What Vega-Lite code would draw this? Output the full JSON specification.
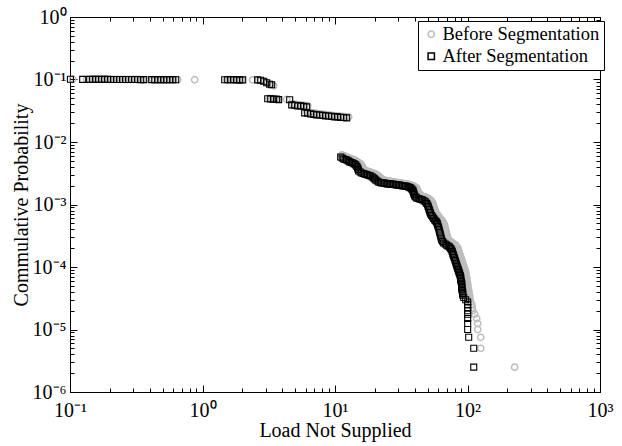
{
  "$schema": "https://vega.github.io/schema/vega-lite/v6.json",
  "width": 530,
  "height": 375,
  "autosize": {"type": "none"},
  "padding": {"left": 70, "top": 17, "right": 22, "bottom": 54},
  "background": "white",
  "config": {
    "view": {"stroke": "black", "strokeWidth": 1},
    "font": "Liberation Serif",
    "axis": {
      "grid": false,
      "domainColor": "black",
      "domainWidth": 1,
      "tickColor": "black",
      "tickWidth": 1,
      "labelColor": "black",
      "titleColor": "black",
      "labelFont": "Liberation Serif",
      "titleFont": "Liberation Serif",
      "labelFontSize": 20,
      "titleFontSize": 20,
      "titleFontWeight": "normal",
      "labelOverlap": false,
      "labelFlush": false,
      "labelBound": false
    }
  },
  "datasets": {
    "before": [
      {"lns": 0.1048, "prob": 0.1008}, {"lns": 0.1337, "prob": 0.1007}, {"lns": 0.1458, "prob": 0.1007}, {"lns": 0.1536, "prob": 0.1006},
      {"lns": 0.1618, "prob": 0.1006}, {"lns": 0.1705, "prob": 0.1005}, {"lns": 0.1796, "prob": 0.1005}, {"lns": 0.1892, "prob": 0.1004},
      {"lns": 0.1993, "prob": 0.1004}, {"lns": 0.21, "prob": 0.1003}, {"lns": 0.2212, "prob": 0.1003}, {"lns": 0.2331, "prob": 0.1002},
      {"lns": 0.2455, "prob": 0.1002}, {"lns": 0.2587, "prob": 0.1001}, {"lns": 0.2725, "prob": 0.1001}, {"lns": 0.2871, "prob": 0.1},
      {"lns": 0.3024, "prob": 0.1}, {"lns": 0.3186, "prob": 0.0999}, {"lns": 0.3357, "prob": 0.0999}, {"lns": 0.3536, "prob": 0.0998},
      {"lns": 0.3725, "prob": 0.0998}, {"lns": 0.4209, "prob": 0.0997}, {"lns": 0.4434, "prob": 0.0997}, {"lns": 0.4671, "prob": 0.0996},
      {"lns": 0.4921, "prob": 0.0996}, {"lns": 0.5185, "prob": 0.0995}, {"lns": 0.5462, "prob": 0.0995}, {"lns": 0.5754, "prob": 0.0994},
      {"lns": 0.6062, "prob": 0.0994}, {"lns": 0.65, "prob": 0.0993}, {"lns": 0.8733, "prob": 0.0992}, {"lns": 1.523, "prob": 0.0991},
      {"lns": 1.604, "prob": 0.099}, {"lns": 1.69, "prob": 0.099}, {"lns": 1.781, "prob": 0.0989}, {"lns": 1.876, "prob": 0.0988},
      {"lns": 1.976, "prob": 0.0987}, {"lns": 2.393, "prob": 0.0986},
      {"lns": 2.61, "prob": 0.0984}, {"lns": 2.75, "prob": 0.0968}, {"lns": 2.948, "prob": 0.0919}, {"lns": 3.105, "prob": 0.0869},
      {"lns": 3.271, "prob": 0.0838}, {"lns": 3.446, "prob": 0.0793},
      {"lns": 3.2, "prob": 0.0497}, {"lns": 3.37, "prob": 0.0494}, {"lns": 3.55, "prob": 0.0491}, {"lns": 3.7, "prob": 0.0488},
      {"lns": 4.318, "prob": 0.0482},
      {"lns": 4.794, "prob": 0.0405}, {"lns": 5.05, "prob": 0.04}, {"lns": 5.321, "prob": 0.0395}, {"lns": 5.606, "prob": 0.039},
      {"lns": 5.905, "prob": 0.0385}, {"lns": 6.221, "prob": 0.038},
      {"lns": 6.114, "prob": 0.0304}, {"lns": 6.441, "prob": 0.0299}, {"lns": 6.786, "prob": 0.0294}, {"lns": 7.149, "prob": 0.0289},
      {"lns": 7.531, "prob": 0.0284}, {"lns": 7.934, "prob": 0.028}, {"lns": 8.358, "prob": 0.0276}, {"lns": 8.805, "prob": 0.0272},
      {"lns": 9.276, "prob": 0.0268}, {"lns": 9.772, "prob": 0.0265}, {"lns": 10.29, "prob": 0.0262}, {"lns": 10.85, "prob": 0.0259},
      {"lns": 11.43, "prob": 0.0256}, {"lns": 12.04, "prob": 0.0254}, {"lns": 12.68, "prob": 0.0252},
      {"lns": 11.23, "prob": 0.00621}, {"lns": 11.53, "prob": 0.0061}, {"lns": 11.84, "prob": 0.00599}, {"lns": 12.26, "prob": 0.00577},
      {"lns": 12.69, "prob": 0.00556}, {"lns": 13.03, "prob": 0.00546}, {"lns": 13.37, "prob": 0.00536}, {"lns": 13.73, "prob": 0.00526},
      {"lns": 14.09, "prob": 0.00516}, {"lns": 14.46, "prob": 0.00498}, {"lns": 14.84, "prob": 0.0048}, {"lns": 15.23, "prob": 0.00463},
      {"lns": 15.63, "prob": 0.00446}, {"lns": 15.91, "prob": 0.00422}, {"lns": 16.19, "prob": 0.00399}, {"lns": 16.33, "prob": 0.00377},
      {"lns": 16.47, "prob": 0.00357}, {"lns": 16.9, "prob": 0.0035}, {"lns": 17.35, "prob": 0.00344}, {"lns": 17.81, "prob": 0.00338},
      {"lns": 18.28, "prob": 0.00332}, {"lns": 18.76, "prob": 0.00326}, {"lns": 19.26, "prob": 0.0032}, {"lns": 19.77, "prob": 0.00314},
      {"lns": 20.29, "prob": 0.00308}, {"lns": 20.82, "prob": 0.00297}, {"lns": 21.37, "prob": 0.00286}, {"lns": 21.75, "prob": 0.00276},
      {"lns": 22.13, "prob": 0.00266}, {"lns": 22.71, "prob": 0.00256}, {"lns": 23.31, "prob": 0.00247}, {"lns": 23.93, "prob": 0.00242},
      {"lns": 24.56, "prob": 0.00238}, {"lns": 25.21, "prob": 0.002375}, {"lns": 25.87, "prob": 0.00237}, {"lns": 26.56, "prob": 0.00233},
      {"lns": 27.26, "prob": 0.00229}, {"lns": 27.98, "prob": 0.002285}, {"lns": 28.72, "prob": 0.00228}, {"lns": 29.48, "prob": 0.002245},
      {"lns": 30.25, "prob": 0.00221}, {"lns": 31.05, "prob": 0.002205}, {"lns": 31.87, "prob": 0.0022}, {"lns": 32.72, "prob": 0.002165},
      {"lns": 33.58, "prob": 0.00213}, {"lns": 34.46, "prob": 0.002125}, {"lns": 35.37, "prob": 0.00212}, {"lns": 36.31, "prob": 0.002085},
      {"lns": 37.27, "prob": 0.00205}, {"lns": 38.25, "prob": 0.002015}, {"lns": 39.26, "prob": 0.00198}, {"lns": 40.3, "prob": 0.00191},
      {"lns": 41.36, "prob": 0.00184}, {"lns": 41.72, "prob": 0.00174}, {"lns": 42.09, "prob": 0.00165}, {"lns": 42.82, "prob": 0.00156},
      {"lns": 43.57, "prob": 0.00147}, {"lns": 44.33, "prob": 0.00142}, {"lns": 45.11, "prob": 0.00137}, {"lns": 46.3, "prob": 0.001345},
      {"lns": 47.53, "prob": 0.00132}, {"lns": 48.78, "prob": 0.001295}, {"lns": 50.07, "prob": 0.00127}, {"lns": 51.39, "prob": 0.001225},
      {"lns": 52.75, "prob": 0.00118}, {"lns": 53.67, "prob": 0.001117}, {"lns": 54.61, "prob": 0.001057}, {"lns": 55.08, "prob": 0.001},
      {"lns": 55.56, "prob": 0.000946}, {"lns": 56.05, "prob": 0.000895}, {"lns": 56.54, "prob": 0.000847}, {"lns": 57.04, "prob": 0.000801},
      {"lns": 57.54, "prob": 0.000758}, {"lns": 58.54, "prob": 0.000717}, {"lns": 59.56, "prob": 0.000679}, {"lns": 60.61, "prob": 0.000643},
      {"lns": 61.67, "prob": 0.000608}, {"lns": 62.75, "prob": 0.000586}, {"lns": 63.85, "prob": 0.000564}, {"lns": 64.97, "prob": 0.000534},
      {"lns": 66.11, "prob": 0.000505}, {"lns": 66.69, "prob": 0.000478}, {"lns": 67.27, "prob": 0.000452}, {"lns": 67.86, "prob": 0.00042},
      {"lns": 68.45, "prob": 0.00039}, {"lns": 69.05, "prob": 0.000363}, {"lns": 69.66, "prob": 0.000337}, {"lns": 70.26, "prob": 0.000313},
      {"lns": 70.87, "prob": 0.00029}, {"lns": 72.12, "prob": 0.000275}, {"lns": 73.39, "prob": 0.00026}, {"lns": 75.33, "prob": 0.000251},
      {"lns": 77.32, "prob": 0.000242}, {"lns": 79.36, "prob": 0.000233}, {"lns": 81.46, "prob": 0.000224}, {"lns": 82.89, "prob": 0.000212},
      {"lns": 84.35, "prob": 0.000201}, {"lns": 85.08, "prob": 0.00019}, {"lns": 85.82, "prob": 0.00018}, {"lns": 86.57, "prob": 0.00017},
      {"lns": 87.33, "prob": 0.000161}, {"lns": 88.09, "prob": 0.000152}, {"lns": 88.86, "prob": 0.000144}, {"lns": 89.64, "prob": 0.000136},
      {"lns": 90.42, "prob": 0.000129}, {"lns": 91.2, "prob": 0.000122}, {"lns": 92.0, "prob": 0.0001155}, {"lns": 92.8, "prob": 0.000109},
      {"lns": 93.62, "prob": 0.000103}, {"lns": 94.44, "prob": 0.0000977}, {"lns": 95.26, "prob": 0.0000926}, {"lns": 96.09, "prob": 0.0000876},
      {"lns": 96.92, "prob": 0.0000829}, {"lns": 96.96, "prob": 0.0000784}, {"lns": 97.0, "prob": 0.0000742}, {"lns": 97.8, "prob": 0.0000702},
      {"lns": 98.62, "prob": 0.0000664}, {"lns": 98.66, "prob": 0.0000628}, {"lns": 98.7, "prob": 0.0000594}, {"lns": 99.5, "prob": 0.0000562},
      {"lns": 100.35, "prob": 0.0000532}, {"lns": 100.38, "prob": 0.0000503}, {"lns": 100.4, "prob": 0.0000476}, {"lns": 101.2, "prob": 0.000045},
      {"lns": 102.1, "prob": 0.0000426}, {"lns": 102.15, "prob": 0.0000403}, {"lns": 102.2, "prob": 0.0000382}, {"lns": 103.0, "prob": 0.0000361},
      {"lns": 103.9, "prob": 0.0000342}, {"lns": 103.95, "prob": 0.0000323}, {"lns": 104.0, "prob": 0.0000306}, {"lns": 105.7, "prob": 0.0000275},
      {"lns": 107.6, "prob": 0.000025}, {"lns": 108.5, "prob": 0.0000225}, {"lns": 109.5, "prob": 0.00002}, {"lns": 113.3, "prob": 0.0000175},
      {"lns": 117.3, "prob": 0.000015}, {"lns": 119.4, "prob": 0.0000125}, {"lns": 119.5, "prob": 0.00001}, {"lns": 125.8, "prob": 0.0000075},
      {"lns": 125.9, "prob": 0.000005}, {"lns": 227.1, "prob": 0.0000025}
    ],
    "after": [
      {"lns": 0.1007, "prob": 0.1007}, {"lns": 0.1247, "prob": 0.1006}, {"lns": 0.1408, "prob": 0.1006}, {"lns": 0.1483, "prob": 0.1005},
      {"lns": 0.1563, "prob": 0.1005}, {"lns": 0.1646, "prob": 0.1004}, {"lns": 0.1734, "prob": 0.1004}, {"lns": 0.1827, "prob": 0.1003},
      {"lns": 0.1925, "prob": 0.1003}, {"lns": 0.2028, "prob": 0.1002}, {"lns": 0.2136, "prob": 0.1002}, {"lns": 0.2251, "prob": 0.1001},
      {"lns": 0.2371, "prob": 0.1001}, {"lns": 0.2498, "prob": 0.1}, {"lns": 0.2632, "prob": 0.1}, {"lns": 0.2772, "prob": 0.0999},
      {"lns": 0.2921, "prob": 0.0999}, {"lns": 0.3077, "prob": 0.0998}, {"lns": 0.3242, "prob": 0.0998}, {"lns": 0.3415, "prob": 0.0997},
      {"lns": 0.3598, "prob": 0.0997}, {"lns": 0.4137, "prob": 0.0996}, {"lns": 0.4358, "prob": 0.0996}, {"lns": 0.4591, "prob": 0.0995},
      {"lns": 0.4837, "prob": 0.0995}, {"lns": 0.5096, "prob": 0.0994}, {"lns": 0.5368, "prob": 0.0994}, {"lns": 0.5655, "prob": 0.0993},
      {"lns": 0.5958, "prob": 0.0993}, {"lns": 0.6277, "prob": 0.0992}, {"lns": 1.471, "prob": 0.0991}, {"lns": 1.55, "prob": 0.099},
      {"lns": 1.633, "prob": 0.099}, {"lns": 1.72, "prob": 0.0989}, {"lns": 1.812, "prob": 0.0988}, {"lns": 1.909, "prob": 0.0988},
      {"lns": 2.011, "prob": 0.0987},
      {"lns": 2.61, "prob": 0.0985}, {"lns": 2.75, "prob": 0.0971}, {"lns": 2.897, "prob": 0.0936}, {"lns": 3.052, "prob": 0.0886},
      {"lns": 3.215, "prob": 0.0838}, {"lns": 3.328, "prob": 0.0823},
      {"lns": 3.105, "prob": 0.0491}, {"lns": 3.271, "prob": 0.0489}, {"lns": 3.446, "prob": 0.0486}, {"lns": 3.63, "prob": 0.0482},
      {"lns": 3.759, "prob": 0.0476},
      {"lns": 4.55, "prob": 0.0473}, {"lns": 4.711, "prob": 0.0393}, {"lns": 4.963, "prob": 0.0387}, {"lns": 5.229, "prob": 0.0379},
      {"lns": 5.508, "prob": 0.0378}, {"lns": 5.803, "prob": 0.0372}, {"lns": 6.114, "prob": 0.0365},
      {"lns": 5.905, "prob": 0.02926}, {"lns": 6.221, "prob": 0.0288}, {"lns": 6.554, "prob": 0.0282}, {"lns": 6.904, "prob": 0.0277},
      {"lns": 7.274, "prob": 0.02718}, {"lns": 7.663, "prob": 0.0271}, {"lns": 8.073, "prob": 0.0267}, {"lns": 8.505, "prob": 0.0262},
      {"lns": 8.96, "prob": 0.0261}, {"lns": 9.439, "prob": 0.0257}, {"lns": 9.944, "prob": 0.02525}, {"lns": 10.48, "prob": 0.0252},
      {"lns": 11.04, "prob": 0.0248}, {"lns": 11.63, "prob": 0.0247}, {"lns": 12.25, "prob": 0.02433},
      {"lns": 11.04, "prob": 0.00577}, {"lns": 11.33, "prob": 0.00556}, {"lns": 11.63, "prob": 0.00536}, {"lns": 11.94, "prob": 0.00526},
      {"lns": 12.25, "prob": 0.00516}, {"lns": 12.57, "prob": 0.00498}, {"lns": 12.91, "prob": 0.0048}, {"lns": 13.25, "prob": 0.00471},
      {"lns": 13.6, "prob": 0.00462}, {"lns": 13.96, "prob": 0.00446}, {"lns": 14.33, "prob": 0.0043}, {"lns": 14.6, "prob": 0.00407},
      {"lns": 14.84, "prob": 0.00385}, {"lns": 14.97, "prob": 0.00364}, {"lns": 15.1, "prob": 0.00344}, {"lns": 15.5, "prob": 0.00332},
      {"lns": 15.91, "prob": 0.0032}, {"lns": 16.33, "prob": 0.00314}, {"lns": 16.76, "prob": 0.00308}, {"lns": 17.2, "prob": 0.00302},
      {"lns": 17.66, "prob": 0.00297}, {"lns": 18.12, "prob": 0.00291}, {"lns": 18.6, "prob": 0.00286}, {"lns": 19.1, "prob": 0.00276},
      {"lns": 19.6, "prob": 0.00266}, {"lns": 19.94, "prob": 0.00256}, {"lns": 20.29, "prob": 0.00247}, {"lns": 20.82, "prob": 0.00238},
      {"lns": 21.37, "prob": 0.00229}, {"lns": 21.94, "prob": 0.00225}, {"lns": 22.52, "prob": 0.00221}, {"lns": 23.11, "prob": 0.002205},
      {"lns": 23.72, "prob": 0.0022}, {"lns": 24.35, "prob": 0.00216}, {"lns": 24.99, "prob": 0.00213}, {"lns": 25.65, "prob": 0.002125},
      {"lns": 26.33, "prob": 0.00212}, {"lns": 27.03, "prob": 0.002115}, {"lns": 27.74, "prob": 0.00211}, {"lns": 28.47, "prob": 0.00208},
      {"lns": 29.22, "prob": 0.00205}, {"lns": 29.99, "prob": 0.002045}, {"lns": 30.78, "prob": 0.00204}, {"lns": 31.6, "prob": 0.00201},
      {"lns": 32.43, "prob": 0.00198}, {"lns": 33.29, "prob": 0.001975}, {"lns": 34.17, "prob": 0.00197}, {"lns": 35.07, "prob": 0.00194},
      {"lns": 35.99, "prob": 0.00191}, {"lns": 36.62, "prob": 0.00187}, {"lns": 37.27, "prob": 0.00184}, {"lns": 37.92, "prob": 0.00177},
      {"lns": 38.59, "prob": 0.00171}, {"lns": 38.92, "prob": 0.00162}, {"lns": 39.26, "prob": 0.00153}, {"lns": 39.6, "prob": 0.00145},
      {"lns": 39.95, "prob": 0.00137}, {"lns": 40.65, "prob": 0.00132}, {"lns": 41.36, "prob": 0.00127}, {"lns": 42.45, "prob": 0.001247},
      {"lns": 43.57, "prob": 0.001225}, {"lns": 44.72, "prob": 0.0012}, {"lns": 45.9, "prob": 0.00118}, {"lns": 47.11, "prob": 0.001138},
      {"lns": 48.36, "prob": 0.001097}, {"lns": 49.21, "prob": 0.001038}, {"lns": 50.07, "prob": 0.000982}, {"lns": 50.51, "prob": 0.000929},
      {"lns": 50.95, "prob": 0.000879}, {"lns": 51.39, "prob": 0.000832}, {"lns": 51.84, "prob": 0.000787}, {"lns": 52.29, "prob": 0.000744},
      {"lns": 52.75, "prob": 0.000704}, {"lns": 53.67, "prob": 0.000666}, {"lns": 54.61, "prob": 0.00063}, {"lns": 55.57, "prob": 0.000596},
      {"lns": 56.54, "prob": 0.000564}, {"lns": 57.53, "prob": 0.000544}, {"lns": 58.54, "prob": 0.000524}, {"lns": 59.05, "prob": 0.000496},
      {"lns": 59.56, "prob": 0.000469}, {"lns": 60.08, "prob": 0.000444}, {"lns": 60.61, "prob": 0.00042}, {"lns": 61.14, "prob": 0.00039},
      {"lns": 61.67, "prob": 0.000362}, {"lns": 62.21, "prob": 0.000337}, {"lns": 62.75, "prob": 0.000313}, {"lns": 63.3, "prob": 0.000291},
      {"lns": 63.85, "prob": 0.00027}, {"lns": 64.97, "prob": 0.000256}, {"lns": 66.11, "prob": 0.000242}, {"lns": 67.86, "prob": 0.000233},
      {"lns": 69.66, "prob": 0.000224}, {"lns": 71.5, "prob": 0.000216}, {"lns": 73.39, "prob": 0.000208}, {"lns": 74.68, "prob": 0.000197},
      {"lns": 75.99, "prob": 0.000187}, {"lns": 76.65, "prob": 0.000177}, {"lns": 77.32, "prob": 0.000167}, {"lns": 78.0, "prob": 0.000158},
      {"lns": 78.68, "prob": 0.00015}, {"lns": 79.37, "prob": 0.000142}, {"lns": 80.06, "prob": 0.000134}, {"lns": 80.76, "prob": 0.000127},
      {"lns": 81.46, "prob": 0.00012}, {"lns": 82.17, "prob": 0.000113}, {"lns": 82.89, "prob": 0.000107}, {"lns": 83.62, "prob": 0.000101},
      {"lns": 84.35, "prob": 0.000096}, {"lns": 85.08, "prob": 0.0000909}, {"lns": 85.82, "prob": 0.000086}, {"lns": 86.57, "prob": 0.0000813},
      {"lns": 87.33, "prob": 0.0000769}, {"lns": 88.1, "prob": 0.0000728}, {"lns": 88.86, "prob": 0.0000689}, {"lns": 88.88, "prob": 0.0000652},
      {"lns": 88.9, "prob": 0.0000617}, {"lns": 89.66, "prob": 0.0000584}, {"lns": 90.42, "prob": 0.0000552}, {"lns": 90.46, "prob": 0.0000522},
      {"lns": 90.5, "prob": 0.0000494}, {"lns": 90.55, "prob": 0.0000467}, {"lns": 90.6, "prob": 0.0000442}, {"lns": 91.3, "prob": 0.0000418},
      {"lns": 92.0, "prob": 0.0000396}, {"lns": 92.05, "prob": 0.0000375}, {"lns": 92.1, "prob": 0.0000355}, {"lns": 93.62, "prob": 0.0000325},
      {"lns": 96.92, "prob": 0.00003}, {"lns": 100.3, "prob": 0.0000275}, {"lns": 100.3, "prob": 0.000025}, {"lns": 100.3, "prob": 0.0000225},
      {"lns": 100.3, "prob": 0.00002}, {"lns": 100.3, "prob": 0.0000175}, {"lns": 100.3, "prob": 0.000015}, {"lns": 100.3, "prob": 0.0000125},
      {"lns": 100.3, "prob": 0.00001}, {"lns": 102.1, "prob": 0.0000075}, {"lns": 111.4, "prob": 0.000005}, {"lns": 111.4, "prob": 0.0000025}
    ]
  },
  "layer": [
    {
      "data": {"name": "before"},
      "mark": {"type": "point", "filled": false, "size": 40, "strokeWidth": 1.5, "opacity": 1},
      "encoding": {
        "x": {
          "field": "lns", "type": "quantitative",
          "scale": {"type": "log", "domain": [0.1, 1000]},
          "axis": {
            "orient": "bottom", "title": "Load Not Supplied", "titlePadding": 0,
            "values": [0.1, 1, 10, 100, 1000], "ticks": false, "labelPadding": 8,
            "labelExpr": "'10' + (round(log(datum.value)/LN10) < 0 ? '⁻' : '') + ['⁰','¹','²','³','⁴','⁵','⁶'][abs(round(log(datum.value)/LN10))]"
          }
        },
        "y": {
          "field": "prob", "type": "quantitative",
          "scale": {"type": "log", "domain": [0.000001, 1]},
          "axis": {
            "orient": "left", "title": "Commulative Probability", "titlePadding": 1,
            "values": [0.000001, 0.00001, 0.0001, 0.001, 0.01, 0.1, 1], "ticks": false, "labelPadding": 4,
            "labelExpr": "'10' + (round(log(datum.value)/LN10) < 0 ? '⁻' : '') + ['⁰','¹','²','³','⁴','⁵','⁶'][abs(round(log(datum.value)/LN10))]"
          }
        },
        "color": {
          "datum": "Before Segmentation",
          "scale": {"domain": ["Before Segmentation", "After Segmentation"], "range": ["#bdbdbd", "#000000"]},
          "legend": {
            "orient": "none", "legendX": 348, "legendY": 4, "title": null,
            "strokeColor": "black", "fillColor": "white", "padding": 4, "cornerRadius": 0,
            "labelFont": "Liberation Serif", "labelFontSize": 18.5, "labelColor": "black", "labelLimit": 400,
            "symbolSize": 40, "symbolStrokeWidth": 1.5, "rowPadding": 3, "labelOffset": 2
          }
        },
        "shape": {
          "datum": "Before Segmentation",
          "scale": {"domain": ["Before Segmentation", "After Segmentation"], "range": ["circle", "square"]},
          "legend": {
            "orient": "none", "legendX": 348, "legendY": 4, "title": null,
            "strokeColor": "black", "fillColor": "white", "padding": 4, "cornerRadius": 0,
            "labelFont": "Liberation Serif", "labelFontSize": 18.5, "labelColor": "black", "labelLimit": 400,
            "symbolSize": 40, "symbolStrokeWidth": 1.5, "rowPadding": 3, "labelOffset": 2
          }
        }
      }
    },
    {
      "data": {"name": "after"},
      "mark": {"type": "point", "filled": false, "size": 36, "strokeWidth": 1.1, "opacity": 1},
      "encoding": {
        "x": {"field": "lns", "type": "quantitative", "scale": {"type": "log", "domain": [0.1, 1000]}, "axis": null},
        "y": {"field": "prob", "type": "quantitative", "scale": {"type": "log", "domain": [0.000001, 1]}, "axis": null},
        "color": {"datum": "After Segmentation"},
        "shape": {"datum": "After Segmentation"}
      }
    },
    {
      "data": {"name": "after"},
      "mark": {"type": "point", "opacity": 0},
      "encoding": {
        "x": {
          "field": "lns", "type": "quantitative", "scale": {"type": "log", "domain": [0.1, 1000]},
          "axis": {"orient": "bottom", "title": null, "labels": false, "domain": false, "values": [0.1, 1, 10, 100, 1000], "tickSize": 7, "offset": -7}
        },
        "y": {
          "field": "prob", "type": "quantitative", "scale": {"type": "log", "domain": [0.000001, 1]},
          "axis": {"orient": "left", "title": null, "labels": false, "domain": false, "values": [0.000001, 0.00001, 0.0001, 0.001, 0.01, 0.1, 1], "tickSize": 7, "offset": -7}
        }
      }
    },
    {
      "data": {"name": "after"},
      "mark": {"type": "point", "opacity": 0},
      "encoding": {
        "x": {
          "field": "lns", "type": "quantitative", "scale": {"type": "log", "domain": [0.1, 1000]},
          "axis": {"orient": "bottom", "title": null, "labels": false, "domain": false, "tickSize": 4, "offset": -4,
            "values": [0.2, 0.3, 0.4, 0.5, 0.6, 0.7, 0.8, 0.9, 2, 3, 4, 5, 6, 7, 8, 9, 20, 30, 40, 50, 60, 70, 80, 90, 200, 300, 400, 500, 600, 700, 800, 900]}
        },
        "y": {
          "field": "prob", "type": "quantitative", "scale": {"type": "log", "domain": [0.000001, 1]},
          "axis": {"orient": "left", "title": null, "labels": false, "domain": false, "tickSize": 4, "offset": -4,
            "values": [2e-6, 3e-6, 4e-6, 5e-6, 6e-6, 7e-6, 8e-6, 9e-6, 2e-5, 3e-5, 4e-5, 5e-5, 6e-5, 7e-5, 8e-5, 9e-5, 2e-4, 3e-4, 4e-4, 5e-4, 6e-4, 7e-4, 8e-4, 9e-4, 0.002, 0.003, 0.004, 0.005, 0.006, 0.007, 0.008, 0.009, 0.02, 0.03, 0.04, 0.05, 0.06, 0.07, 0.08, 0.09, 0.2, 0.3, 0.4, 0.5, 0.6, 0.7, 0.8, 0.9]}
        }
      }
    },
    {
      "data": {"name": "after"},
      "mark": {"type": "point", "opacity": 0},
      "encoding": {
        "x": {
          "field": "lns", "type": "quantitative", "scale": {"type": "log", "domain": [0.1, 1000]},
          "axis": {"orient": "top", "title": null, "labels": false, "domain": false, "values": [0.1, 1, 10, 100, 1000], "tickSize": 7, "offset": -7}
        },
        "y": {
          "field": "prob", "type": "quantitative", "scale": {"type": "log", "domain": [0.000001, 1]},
          "axis": {"orient": "right", "title": null, "labels": false, "domain": false, "values": [0.000001, 0.00001, 0.0001, 0.001, 0.01, 0.1, 1], "tickSize": 7, "offset": -7}
        }
      }
    },
    {
      "data": {"name": "after"},
      "mark": {"type": "point", "opacity": 0},
      "encoding": {
        "x": {
          "field": "lns", "type": "quantitative", "scale": {"type": "log", "domain": [0.1, 1000]},
          "axis": {"orient": "top", "title": null, "labels": false, "domain": false, "tickSize": 4, "offset": -4,
            "values": [0.2, 0.3, 0.4, 0.5, 0.6, 0.7, 0.8, 0.9, 2, 3, 4, 5, 6, 7, 8, 9, 20, 30, 40, 50, 60, 70, 80, 90, 200, 300, 400, 500, 600, 700, 800, 900]}
        },
        "y": {
          "field": "prob", "type": "quantitative", "scale": {"type": "log", "domain": [0.000001, 1]},
          "axis": {"orient": "right", "title": null, "labels": false, "domain": false, "tickSize": 4, "offset": -4,
            "values": [2e-6, 3e-6, 4e-6, 5e-6, 6e-6, 7e-6, 8e-6, 9e-6, 2e-5, 3e-5, 4e-5, 5e-5, 6e-5, 7e-5, 8e-5, 9e-5, 2e-4, 3e-4, 4e-4, 5e-4, 6e-4, 7e-4, 8e-4, 9e-4, 0.002, 0.003, 0.004, 0.005, 0.006, 0.007, 0.008, 0.009, 0.02, 0.03, 0.04, 0.05, 0.06, 0.07, 0.08, 0.09, 0.2, 0.3, 0.4, 0.5, 0.6, 0.7, 0.8, 0.9]}
        }
      }
    }
  ],
  "resolve": {"axis": {"x": "independent", "y": "independent"}}
}
